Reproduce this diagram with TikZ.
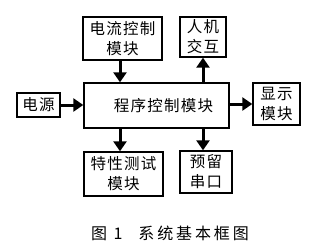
\documentclass[tikz,border=0pt]{standalone}
\usepackage{fontspec}
\setmainfont{Noto Sans CJK SC}
\usepackage{tikz}
\usetikzlibrary{arrows.meta, positioning}

\begin{document}
\begin{tikzpicture}[x=1pt, y=-1pt,
    blk/.style={draw, line width=1.4pt, align=center, inner sep=0pt,
      font=\fontsize{15.5}{20}\selectfont\addfontfeatures{LetterSpace=8}},
    arr/.style={line width=3pt, -{Triangle[length=10pt, width=13pt]}}]
      \useasboundingbox (0,0) rectangle (312,251);
      \node[blk, minimum width=79pt, minimum height=43pt] (dl) at (122.5, 38.5) {电流控制\\模块};
      \node[blk, minimum width=46pt, minimum height=40pt] (rj) at (203, 37) {人机\\交互};
      \node[blk, minimum width=145pt, minimum height=45pt] (main) at (156.5, 105.5) {\hspace{14pt}程序控制模块};
      \node[blk, minimum width=43pt, minimum height=24pt] (dy) at (38.5, 105) {电源};
      \node[blk, minimum width=47pt, minimum height=42pt] (xs) at (276.5, 104) {显示\\模块};
      \node[blk, minimum width=79pt, minimum height=44pt] (tx) at (123.5, 174) {特性测试\\模块};
      \node[blk, minimum width=52pt, minimum height=42pt] (yl) at (206, 172) {预留\\串口};
      \node[font=\fontsize{16}{18}\selectfont\addfontfeatures{LetterSpace=18}] (cap) at (170, 233) {图 1\hspace{16pt}系统基本框图};
      % connectors
      \draw[arr] (dl.south -| 120,0) -- (main.north -| 120,0);
      \draw[arr] (main.north -| rj.south) -- (rj.south);
      \draw[arr] (dy.east) -- (dy.east -| main.west);
      \draw[arr] (main.east |- xs.west) -- (xs.west);
      \draw[arr] (main.south -| 120,0) -- (tx.north -| 120,0);
      \draw[arr] (main.south -| rj.south) -- (yl.north -| rj.south);
\end{tikzpicture}
\end{document}
